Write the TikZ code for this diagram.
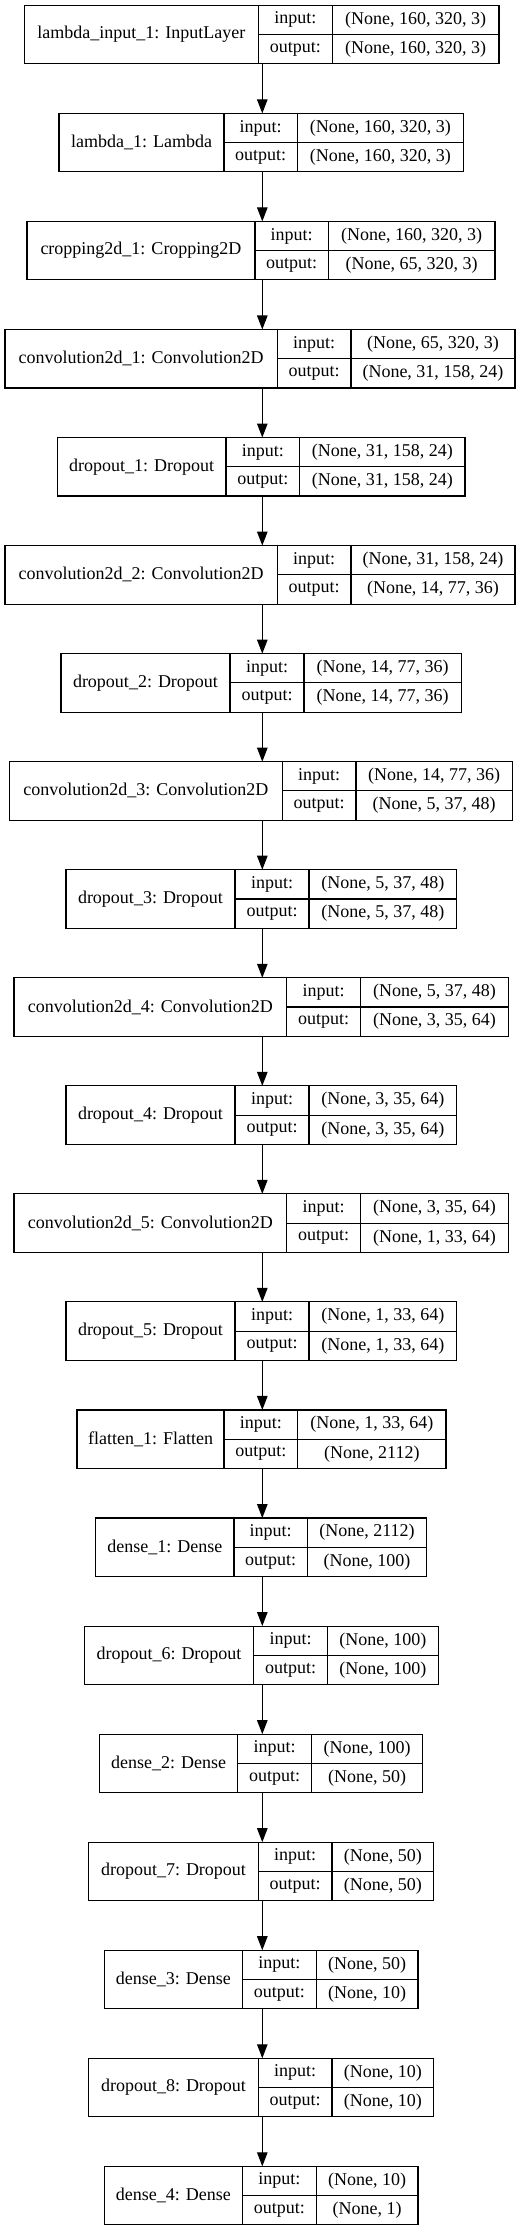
\documentclass[tikz,border=0pt]{standalone}
\usepackage{fontspec}
\setmainfont{Liberation Serif}
\usetikzlibrary{arrows.meta}
\tikzset{
  cell/.style={draw=black, line width=1.1pt, rectangle, inner sep=0pt, outer sep=0pt, font=\fontsize{18}{20}\selectfont},
  outerbox/.style={rectangle, inner sep=0pt, outer sep=0pt},
  arr/.style={draw=black, line width=1.1pt, -{Triangle[length=14pt,width=10.5pt]}}
}
\newcommand\layerrow[8]{%
  \pgfmathsetmacro\lyT{5.3+108.05*#1}%
  \pgfmathsetmacro\lyM{\lyT+29.25}%
  \pgfmathsetmacro\lyA{\lyT+14.625}%
  \pgfmathsetmacro\lyB{\lyT+43.875}%
  \node[outerbox, minimum width={#5-#2}, minimum height=58.5] (l#1) at ({(#2+#5)/2},{-\lyM}) {};
  \node[cell, minimum width={#3-#2}, minimum height=58.5] (l#1n) at ({(#2+#3)/2},{-\lyM}) {#6};
  \node[cell, minimum width={#4-#3}, minimum height=29.25] (l#1i) at ({(#3+#4)/2},{-\lyA}) {input:};
  \node[cell, minimum width={#4-#3}, minimum height=29.25] (l#1o) at ({(#3+#4)/2},{-\lyB}) {output:};
  \node[cell, minimum width={#5-#4}, minimum height=29.25] (l#1iv) at ({(#4+#5)/2},{-\lyA}) {#7};
  \node[cell, minimum width={#5-#4}, minimum height=29.25] (l#1ov) at ({(#4+#5)/2},{-\lyB}) {#8};
}
\begin{document}
\begin{tikzpicture}[x=1pt,y=1pt]
\useasboundingbox (0,0) rectangle (526,-2231);
\coordinate (spine) at (262.3,0);
\layerrow{0}{24.3}{258.3}{332.3}{499}{lambda\_input\_1: InputLayer}{(None, 160, 320, 3)}{(None, 160, 320, 3)}
\layerrow{1}{59}{224}{297.3}{463.3}{lambda\_1: Lambda}{(None, 160, 320, 3)}{(None, 160, 320, 3)}
\layerrow{2}{27}{255}{328.3}{495}{cropping2d\_1: Cropping2D}{(None, 160, 320, 3)}{(None, 65, 320, 3)}
\layerrow{3}{5}{277.3}{351}{515}{convolution2d\_1: Convolution2D}{(None, 65, 320, 3)}{(None, 31, 158, 24)}
\layerrow{4}{57.3}{226}{299.7}{465}{dropout\_1: Dropout}{(None, 31, 158, 24)}{(None, 31, 158, 24)}
\layerrow{5}{5}{277.3}{351}{515}{convolution2d\_2: Convolution2D}{(None, 31, 158, 24)}{(None, 14, 77, 36)}
\layerrow{6}{61}{230}{304}{461.3}{dropout\_2: Dropout}{(None, 14, 77, 36)}{(None, 14, 77, 36)}
\layerrow{7}{9.3}{282.3}{356}{512.3}{convolution2d\_3: Convolution2D}{(None, 14, 77, 36)}{(None, 5, 37, 48)}
\layerrow{8}{66}{235}{309}{456.7}{dropout\_3: Dropout}{(None, 5, 37, 48)}{(None, 5, 37, 48)}
\layerrow{9}{14}{286.7}{360.3}{508.7}{convolution2d\_4: Convolution2D}{(None, 5, 37, 48)}{(None, 3, 35, 64)}
\layerrow{10}{66}{235}{309}{456.7}{dropout\_4: Dropout}{(None, 3, 35, 64)}{(None, 3, 35, 64)}
\layerrow{11}{14}{286.7}{360.3}{508.7}{convolution2d\_5: Convolution2D}{(None, 3, 35, 64)}{(None, 1, 33, 64)}
\layerrow{12}{66}{235}{309}{456.7}{dropout\_5: Dropout}{(None, 1, 33, 64)}{(None, 1, 33, 64)}
\layerrow{13}{77}{224}{297.7}{446}{flatten\_1: Flatten}{(None, 1, 33, 64)}{(None, 2112)}
\layerrow{14}{95.7}{234}{307.3}{426.7}{dense\_1: Dense}{(None, 2112)}{(None, 100)}
\layerrow{15}{84.3}{253.7}{327.3}{438.3}{dropout\_6: Dropout}{(None, 100)}{(None, 100)}
\layerrow{16}{99.7}{237.7}{311.7}{422.7}{dense\_2: Dense}{(None, 100)}{(None, 50)}
\layerrow{17}{88.7}{258.3}{332}{433.7}{dropout\_7: Dropout}{(None, 50)}{(None, 50)}
\layerrow{18}{104.3}{242.3}{316.3}{418}{dense\_3: Dense}{(None, 50)}{(None, 10)}
\layerrow{19}{88.7}{258.3}{332}{433.7}{dropout\_8: Dropout}{(None, 10)}{(None, 10)}
\layerrow{20}{104.3}{242.3}{316.3}{418}{dense\_4: Dense}{(None, 10)}{(None, 1)}
\foreach \a [evaluate=\a as \b using int(\a+1)] in {0,...,19} {
  \draw[arr] (l\a.south -| spine) -- (l\b.north -| spine);
}
\end{tikzpicture}
\end{document}
